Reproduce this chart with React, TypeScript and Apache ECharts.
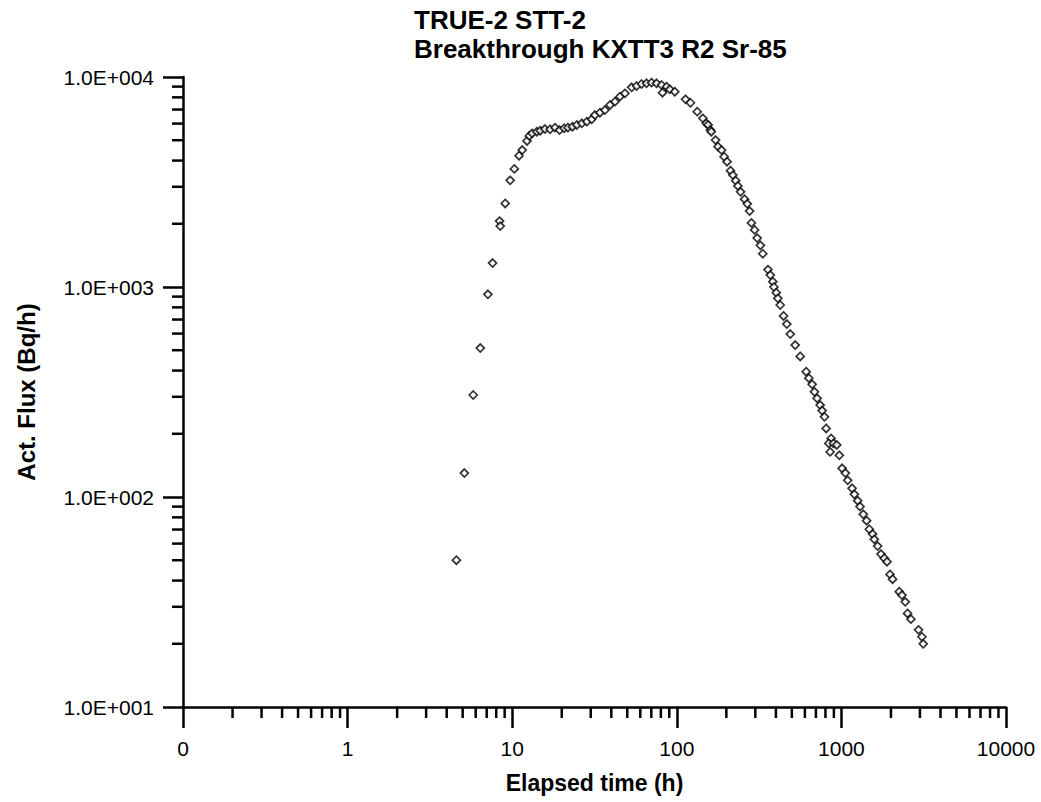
import React, { useEffect, useRef } from "react";
import * as echarts from "echarts";

const titleLines = ["TRUE-2 STT-2", "Breakthrough KXTT3 R2 Sr-85"];
const xAxisName = "Elapsed time (h)";
const yAxisName = "Act. Flux (Bq/h)";

const xTickLabels = ["0", "1", "10", "100", "1000", "10000"];
const yTickLabels = ["1.0E+001", "1.0E+002", "1.0E+003", "1.0E+004"];

const xMinorTicks = [
  0.2, 0.3, 0.4, 0.5, 0.6, 0.7, 0.8, 0.9,
  2, 3, 4, 5, 6, 7, 8, 9,
  20, 30, 40, 50, 60, 70, 80, 90,
  200, 300, 400, 500, 600, 700, 800, 900,
  2000, 3000, 4000, 5000, 6000, 7000, 8000, 9000,
];
const yMinorTicks = [
  20, 30, 40, 50, 60, 70, 80, 90,
  200, 300, 400, 500, 600, 700, 800, 900,
  2000, 3000, 4000, 5000, 6000, 7000, 8000, 9000,
];

const elapsedTime = [
  4.58, 5.12, 5.8, 6.4, 7.12, 7.6, 8.38, 8.46, 9.07, 9.72,
  10.3, 11.0, 11.5, 12.3, 12.7, 13.2, 14.1, 14.8, 15.8, 17.0,
  18.2, 19.4, 20.7, 21.8, 23.2, 24.7, 26.5, 28.4, 30.4, 31.8,
  34.1, 36.6, 39.3, 42.1, 45.1, 48.4, 53.2, 57.0, 61.1, 65.5,
  70.2, 75.3, 80.8, 81.9, 86.6, 90.7, 97.2, 113, 121, 133,
  144, 151, 155, 160, 162, 172, 178, 187, 194, 202,
  212, 219, 228, 235, 244, 258, 268, 277, 284, 297,
  308, 322, 333, 358, 370, 383, 389, 402, 411, 425,
  445, 466, 489, 524, 562, 611, 634, 664, 686, 712,
  743, 764, 789, 808, 866, 838, 894, 937, 854, 972,
  1010, 1057, 1092, 1161, 1199, 1256, 1298, 1359, 1423, 1478,
  1548, 1585, 1660, 1740, 1822, 1892, 1974, 2046, 2246, 2332,
  2443, 2523, 2645, 2941, 3085, 3141,
];
const actFlux = [
  50, 130, 306, 512, 923, 1300, 2060, 1950, 2500, 3220,
  3650, 4220, 4490, 4960, 5240, 5390, 5490, 5550, 5650, 5640,
  5740, 5590, 5700, 5740, 5800, 5910, 6020, 6130, 6290, 6590,
  6760, 6960, 7360, 7630, 8060, 8360, 8930, 9060, 9260, 9330,
  9400, 9330, 9160, 8420, 8990, 8740, 8510, 7830, 7540, 6840,
  6360, 6020, 5910, 5590, 5490, 5010, 4660, 4490, 4170, 3950,
  3580, 3410, 3210, 3030, 2840, 2620, 2490, 2300, 2020, 1870,
  1710, 1580, 1440, 1210, 1140, 1060, 1000, 940, 883, 821,
  728, 666, 597, 529, 467, 395, 368, 344, 317, 295,
  274, 258, 241, 212, 190, 180, 180, 177, 164, 158,
  137, 130, 120, 110, 103, 96, 90, 82.7, 77.1, 70.2,
  66.6, 62.9, 58.4, 53.5, 51.1, 49.2, 42.8, 40.6, 35.4, 34.1,
  31.7, 27.9, 26.2, 23.3, 21.6, 20.0,
];

const FONT = "'Liberation Sans', Arial, Helvetica, sans-serif";

export default function App() {
  const ref = useRef<HTMLDivElement>(null);

  useEffect(() => {
    if (!ref.current) return;
    const chart = echarts.init(ref.current, null, { renderer: "svg" });
    const points = elapsedTime.map((t, i) => [t, actFlux[i]]);

    chart.setOption({
      animation: false,
      backgroundColor: "#ffffff",
      graphic: [
        {
          type: "text",
          left: 414,
          top: 5,
          style: {
            text: titleLines.join("\n"),
            font: `bold 26px ${FONT}`,
            lineHeight: 29,
            fill: "#000",
            textAlign: "left",
          },
        },
      ],
      grid: { left: 183, right: 35, top: 77, bottom: 95, containLabel: false },
      xAxis: {
        type: "log",
        logBase: 10,
        min: 0.1,
        max: 10000,
        name: xAxisName,
        nameLocation: "middle",
        nameGap: 64,
        nameTextStyle: { fontFamily: FONT, fontWeight: "bold", fontSize: 23, color: "#000" },
        axisLine: { show: true, lineStyle: { color: "#000", width: 2.5 } },
        axisTick: { show: true, length: 21, lineStyle: { color: "#000", width: 2.5 } },
        minorTick: { show: false },
        splitLine: { show: false },
        axisLabel: {
          margin: 31,
          fontFamily: FONT,
          fontSize: 21,
          color: "#000",
          showMinLabel: true,
          showMaxLabel: true,
          formatter: (v: number) => xTickLabels[Math.round(Math.log10(v)) + 1] ?? "",
        },
      },
      yAxis: {
        type: "log",
        logBase: 10,
        min: 10,
        max: 10000,
        name: yAxisName,
        nameLocation: "middle",
        nameGap: 145,
        nameRotate: 90,
        nameTextStyle: { fontFamily: FONT, fontWeight: "bold", fontSize: 24, color: "#000" },
        axisLine: { show: true, lineStyle: { color: "#000", width: 2.5 } },
        axisTick: { show: true, length: 20, lineStyle: { color: "#000", width: 2.5 } },
        minorTick: { show: false },
        splitLine: { show: false },
        axisLabel: {
          margin: 29,
          fontFamily: FONT,
          fontSize: 21,
          color: "#000",
          showMinLabel: true,
          showMaxLabel: true,
          formatter: (v: number) => yTickLabels[Math.round(Math.log10(v)) - 1] ?? "",
        },
      },
      series: [
        {
          type: "custom",
          silent: true,
          clip: false,
          data: xMinorTicks.map((v) => [v, 10]),
          renderItem: (params: any, api: any) => {
            const p = api.coord([api.value(0), api.value(1)]);
            return {
              type: "line",
              shape: { x1: p[0], y1: p[1], x2: p[0], y2: p[1] + 11 },
              style: { stroke: "#000", lineWidth: 2.5 },
            };
          },
        },
        {
          type: "custom",
          silent: true,
          clip: false,
          data: yMinorTicks.map((v) => [0.1, v]),
          renderItem: (params: any, api: any) => {
            const p = api.coord([api.value(0), api.value(1)]);
            return {
              type: "line",
              shape: { x1: p[0], y1: p[1], x2: p[0] - 11, y2: p[1] },
              style: { stroke: "#000", lineWidth: 2.5 },
            };
          },
        },
        {
          type: "scatter",
          data: points,
          symbol: "diamond",
          symbolSize: 8,
          itemStyle: { color: "#ffffff", borderColor: "#000", borderWidth: 1.7 },
        },
      ],
    });

    return () => chart.dispose();
  }, []);

  return <div ref={ref} style={{ width: 1041, height: 802, position: "absolute", left: 0, top: 0 }} />;
}
